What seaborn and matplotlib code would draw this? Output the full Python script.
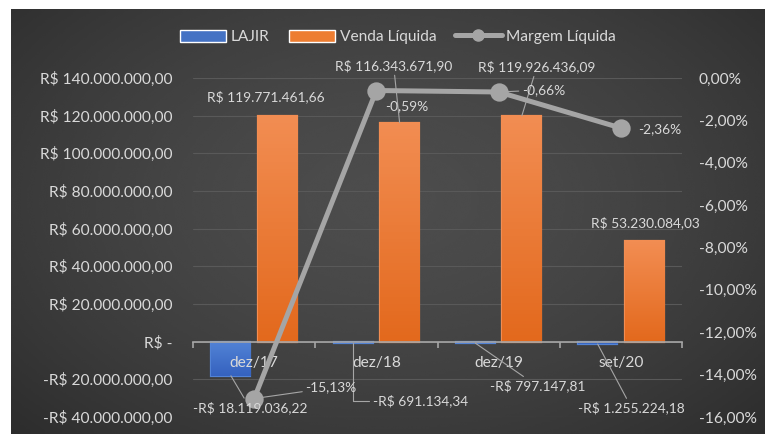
import numpy as np
import pandas as pd
import matplotlib
matplotlib.use("Agg")
import matplotlib.pyplot as plt
import seaborn as sns
from matplotlib.ticker import FuncFormatter, MultipleLocator, FixedLocator
from matplotlib.patches import Patch
from matplotlib.lines import Line2D
from matplotlib.colors import LinearSegmentedColormap

# Dados
categorias = ["dez/17", "dez/18", "dez/19", "set/20"]
lajir = [-18119036.22, -691134.34, -797147.81, -1255224.18]
venda_liquida = [119771461.66, 116343671.90, 119926436.09, 53230084.03]
margem_liquida = [-15.13, -0.59, -0.66, -2.36]  # em %

series = ["LAJIR", "Venda Líquida"]
cores = {"LAJIR": "#4472C4", "Venda Líquida": "#ED7D31"}
cor_linha = "#A5A5A5"
cor_texto = "#D9D9D9"

df = pd.DataFrame({
    "Período": categorias * 2,
    "Série": ["LAJIR"] * 4 + ["Venda Líquida"] * 4,
    "Valor": lajir + venda_liquida,
})


def brl(v, pos=None):
    if abs(v) < 1e-6:
        return "R$ -"
    s = f"{abs(v):,.2f}".replace(",", "X").replace(".", ",").replace("X", ".")
    return ("-" if v < 0 else "") + "R$ " + s


def pct(v, pos=None):
    return f"{v + 0.0:.2f}%".replace(".", ",")


sns.set_style("white")
plt.rcParams["font.family"] = ["Lato", "DejaVu Sans"]

W, H = 765, 434
fig = plt.figure(figsize=(W / 100, H / 100), dpi=100, facecolor="white")

# fundo escuro com degradê radial
bg = fig.add_axes([11 / W, 0, 1 - 11 / W, 1 - 9 / H])
yy, xx = np.mgrid[0:1:200j, 0:1:360j]
r = np.sqrt(((xx - 0.5) / 0.75) ** 2 + ((yy - 0.45) / 0.85) ** 2)
val = 0.30 - 0.14 * np.clip(r, 0, 1) ** 1.6
bg.imshow(val, cmap="gray", vmin=0, vmax=1, extent=[0, 1, 0, 1],
          aspect="auto", interpolation="bicubic")
bg.axis("off")

ax = fig.add_axes([193 / W, 17 / H, (682 - 193) / W, (417 - 78) / H])
ax.patch.set_alpha(0)

sns.barplot(data=df, x="Período", y="Valor", hue="Série", hue_order=series,
            palette=cores, width=0.76, gap=0.16, saturation=1, legend=False,
            linewidth=0, ax=ax)

# degradê nas barras
grad_cores = {"LAJIR": ("#3562BF", "#5283D6"), "Venda Líquida": ("#E3691D", "#F28D52")}
grad = np.linspace(0, 1, 64).reshape(-1, 1)
for serie, cont in zip(series, ax.containers):
    cmap = LinearSegmentedColormap.from_list(serie, grad_cores[serie])
    for bar in cont:
        bar.set_edgecolor(grad_cores[serie][1])
        bar.set_linewidth(1.6)
        x0, y0 = bar.get_x(), bar.get_y()
        w, h = bar.get_width(), bar.get_height()
        im = ax.imshow(grad, cmap=cmap, origin="lower", aspect="auto",
                       extent=[x0, x0 + w, min(y0, y0 + h), max(y0, y0 + h)],
                       zorder=bar.get_zorder() + 0.1)
        im.set_clip_path(bar)

ax2 = ax.twinx()
sns.pointplot(x=categorias, y=margem_liquida, ax=ax2, color=cor_linha,
              markers="o", markersize=10.5, linewidth=3.6)

# eixo esquerdo
ymin, ymax = -40e6, 140e6
ax.set_ylim(ymin, ymax)
ax.yaxis.set_major_locator(MultipleLocator(20e6))
ax.yaxis.set_major_formatter(FuncFormatter(brl))
ax.grid(axis="y", color="#595959", linewidth=0.8)
ax.set_axisbelow(True)
ax.set_xlim(-0.5, 3.5)
ax.set_xticks(range(len(categorias)))
ax.set_xticklabels(categorias)
ax.xaxis.set_minor_locator(FixedLocator(np.arange(-0.5, 4, 1)))
for s in ax.spines.values():
    s.set_visible(False)
ax.tick_params(axis="x", which="both", length=0, labelbottom=False)
ax.tick_params(axis="y", length=0, pad=15, labelsize=11.2, labelcolor=cor_texto)
ax.set_xlabel("")
ax.set_ylabel("")

# eixo direito (+ eixo das categorias desenhado por cima das barras)
ax2.set_ylim(-16, 0)
ax2.yaxis.set_major_locator(MultipleLocator(2))
ax2.yaxis.set_major_formatter(FuncFormatter(pct))
ax2.tick_params(axis="y", length=0, pad=12, labelsize=11.2, labelcolor=cor_texto)
for s in ax2.spines.values():
    s.set_visible(False)
ax2.xaxis.set_visible(True)
ax2.spines["bottom"].set_visible(True)
ax2.spines["bottom"].set_position(("axes", -ymin / (ymax - ymin)))
ax2.spines["bottom"].set_color("#A6A6A6")
ax2.spines["bottom"].set_linewidth(1.2)
ax2.spines["bottom"].set_zorder(1.6)
ax2.tick_params(axis="x", which="major", bottom=True, labelbottom=True, length=0,
                pad=10, labelsize=11.2, labelcolor=cor_texto)
ax2.tick_params(axis="x", which="minor", bottom=True, length=4, width=1.2,
                color="#A6A6A6", direction="out")
ax2.set_xlabel("")
ax2.set_ylabel("")
ax2.grid(False)

# rótulos de dados
leader = dict(arrowstyle="-", color="#A6A6A6", lw=0.8, shrinkA=0, shrinkB=0)
fs_rot = 9.9

venda_offsets = [(-12, 19, False), (-6, 57, True), (15, 49, True), (1, 19, False)]
for bar, v, (dx, dy, ld) in zip(ax.containers[1], venda_liquida, venda_offsets):
    xy = (bar.get_x() + bar.get_width() / 2, v)
    ax2.annotate(brl(v), xy=xy, xycoords=ax.transData, xytext=(dx, dy),
                 textcoords="offset pixels", ha="center", va="center",
                 fontsize=fs_rot, color=cor_texto,
                 arrowprops=leader if ld else None, zorder=10)

lajir_offsets = [(19, -32, None), (67, -58, "angle,angleA=0,angleB=90,rad=0"),
                 (62, -43, "arc3"), (34, -64, "arc3")]
for bar, v, (dx, dy, cs) in zip(ax.containers[0], lajir, lajir_offsets):
    xy = (bar.get_x() + bar.get_width() / 2, v)
    props = dict(leader, connectionstyle=cs or "arc3")
    ax2.annotate(brl(v), xy=xy, xycoords=ax.transData, xytext=(dx, dy),
                 textcoords="offset pixels", ha="center", va="center",
                 fontsize=fs_rot, color=cor_texto, arrowprops=props, zorder=10)

margem_offsets = [(77, 11, True), (30, -16, False), (45, 2, True), (39, -1, False)]
for i, (v, (dx, dy, ld)) in enumerate(zip(margem_liquida, margem_offsets)):
    ax2.annotate(pct(v), xy=(i, v), xytext=(dx, dy), textcoords="offset pixels",
                 ha="center", va="center", fontsize=fs_rot, color=cor_texto,
                 arrowprops=leader if ld else None, zorder=10)

# legenda
handles = [Patch(facecolor=cores["LAJIR"]), Patch(facecolor=cores["Venda Líquida"]),
           Line2D([], [], color=cor_linha, lw=3.6, marker="o", markersize=8)]
fig.legend(handles, ["LAJIR", "Venda Líquida", "Margem Líquida"], loc="center",
           bbox_to_anchor=(398 / W, 1 - 37 / H), ncol=3, frameon=False,
           labelcolor=cor_texto, fontsize=11.2, handlelength=3.0, handleheight=0.8,
           columnspacing=1.2, handletextpad=0.3)

fig.savefig("out.png", dpi=100, facecolor="white")
